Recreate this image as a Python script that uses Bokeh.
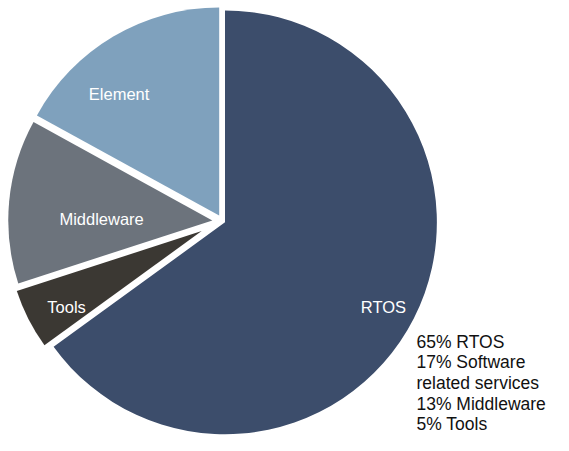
import math
from bokeh.plotting import figure
from bokeh.models import Range1d, ColumnDataSource
from bokeh.core.properties import value
from bokeh.embed import file_html
from bokeh.resources import INLINE

# ---- data ----
categories = ["RTOS", "Tools", "Middleware", "Element"]
shares = [65, 5, 13, 17]
legend_names = ["RTOS", "Software\nrelated services", "Middleware", "Tools"]
legend_shares = [65, 17, 13, 5]

# ---- style ----
colors = ["#3C4D6B", "#3B3833", "#6C737C", "#7FA1BD"]
# per-slice offsets (ref px, screen) and radii (ref px)
offsets = [(0, 0), (-24, 9), (-13, -2), (-6, -7)]
radii = [218, 200, 210, 214]
label_pos = [(394, 318), (68, 318), (104, 227), (122, 97)]
base_cx, base_cy = 231, 230  # reference px
REF_W, REF_H = 569, 451

W_FIG, H_FIG = 553, 435
p = figure(width=W_FIG, height=H_FIG, output_backend="svg", toolbar_location=None,
           x_range=Range1d(0, REF_W), y_range=Range1d(0, REF_H),
           min_border=0)
p.axis.visible = False
p.grid.visible = False
p.outline_line_color = None
p.background_fill_color = "white"
p.border_fill_color = "white"

total = sum(shares)
xs, ys, starts, ends = [], [], [], []
cum = 0.0
for s, (ox, oy) in zip(shares, offsets):
    a0 = cum / total * 2 * math.pi
    cum += s
    a1 = cum / total * 2 * math.pi
    starts.append(math.pi / 2 - a0)
    ends.append(math.pi / 2 - a1)
    xs.append(base_cx + ox)
    ys.append(REF_H - (base_cy + oy))

src = ColumnDataSource(dict(x=xs, y=ys, r=radii, s=starts, e=ends, c=colors, name=categories))
p.wedge(x="x", y="y", radius="r", start_angle="s", end_angle="e", direction="clock",
        fill_color="c", line_color=None, source=src)

lsrc = ColumnDataSource(dict(x=[q[0] for q in label_pos], y=[REF_H - q[1] for q in label_pos], t=categories))
p.text(x="x", y="y", text="t", source=lsrc, text_color="white", text_align="center",
       text_baseline="middle", text_font=value("Liberation Sans"), text_font_size="16.5px")

# right-hand legend text
lines = []
for sh, nm in zip(legend_shares, legend_names):
    parts = nm.split("\n")
    lines.append(f"{sh}% {parts[0]}")
    lines.extend(parts[1:])
ly = [REF_H - (354 + 21.3 * i) for i in range(len(lines))]
tsrc = ColumnDataSource(dict(x=[428] * len(lines), y=ly, t=lines))
p.text(x="x", y="y", text="t", source=tsrc, text_color="#111111", text_align="left",
       text_baseline="middle", text_font=value("Liberation Sans"), text_font_size="17.5px")

open("out.html", "w").write(file_html(p, INLINE))
